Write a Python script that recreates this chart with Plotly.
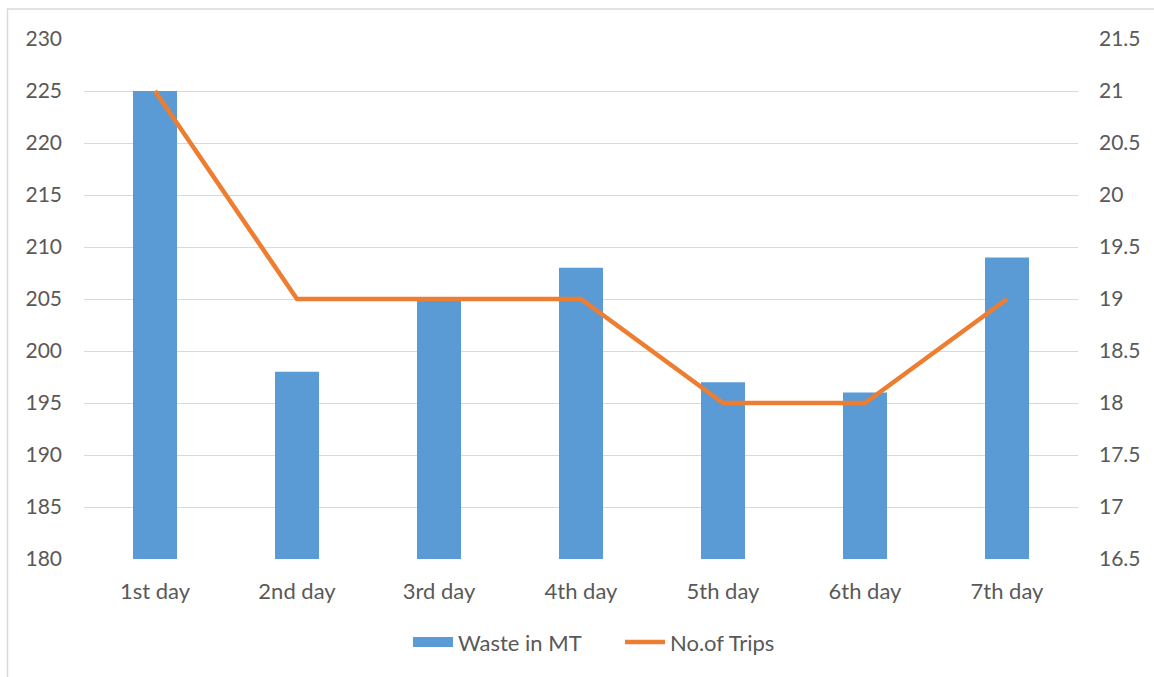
import plotly.graph_objects as go

days = ["1st day", "2nd day", "3rd day", "4th day", "5th day", "6th day", "7th day"]
waste_mt = [225, 198, 205, 208, 197, 196, 209]
trips = [21, 19, 19, 19, 18, 18, 19]

FONT = "Lato"
TXT = "#595959"
GRID = "#d9d9d9"
BLUE = "#5B9BD5"
ORANGE = "#ED7D31"

fig = go.Figure()
fig.add_trace(go.Bar(x=days, y=waste_mt, name="Waste in MT", marker_color=BLUE,
                     marker_line_width=0, showlegend=False))
# legend proxy for the bar series (wide rectangle swatch)
fig.add_trace(go.Scatter(x=[None], y=[None], name="Waste in MT", mode="lines",
                         line=dict(color=BLUE, width=14), legend="legend"))
fig.add_trace(go.Scatter(x=days, y=trips, name="No.of Trips", yaxis="y2", mode="lines",
                         line=dict(color=ORANGE, width=4.5), legend="legend2"))

def px_x(p):
    return (p - 84) / 994

leg_common = dict(orientation="h", y=-0.16, yanchor="middle", xanchor="left",
                  font=dict(size=22, color=TXT), itemwidth=40, bgcolor="rgba(0,0,0,0)")

fig.update_layout(
    width=1154, height=677,
    margin=dict(l=84, r=76, t=39, b=118),
    paper_bgcolor="white", plot_bgcolor="white",
    font=dict(family=FONT, size=21, color=TXT),
    bargap=0.69,
    xaxis=dict(showgrid=False, showline=False, ticks="", ticklabelstandoff=17,
               tickfont=dict(size=22, color=TXT)),
    yaxis=dict(range=[180, 230], dtick=5, showgrid=True, gridcolor=GRID, gridwidth=1,
               zeroline=False, showline=False, ticks="", ticklabelstandoff=21,
               tickfont=dict(size=21, color=TXT)),
    yaxis2=dict(range=[16.5, 21.5], dtick=0.5, overlaying="y", side="right",
                showgrid=False, zeroline=False, showline=False, ticks="",
                ticklabelstandoff=20, tickfont=dict(size=21, color=TXT)),
    legend=dict(x=px_x(408), **leg_common),
    legend2=dict(x=px_x(620), **leg_common),
    showlegend=True,
    shapes=[dict(type="rect", xref="paper", yref="paper",
                 x0=(7.5 - 84) / 994, x1=1.2, y0=-0.4, y1=1 + 30 / 520,
                 line=dict(color=GRID, width=1.5), fillcolor="rgba(0,0,0,0)", layer="below")],
)

fig.write_html("out.html")
